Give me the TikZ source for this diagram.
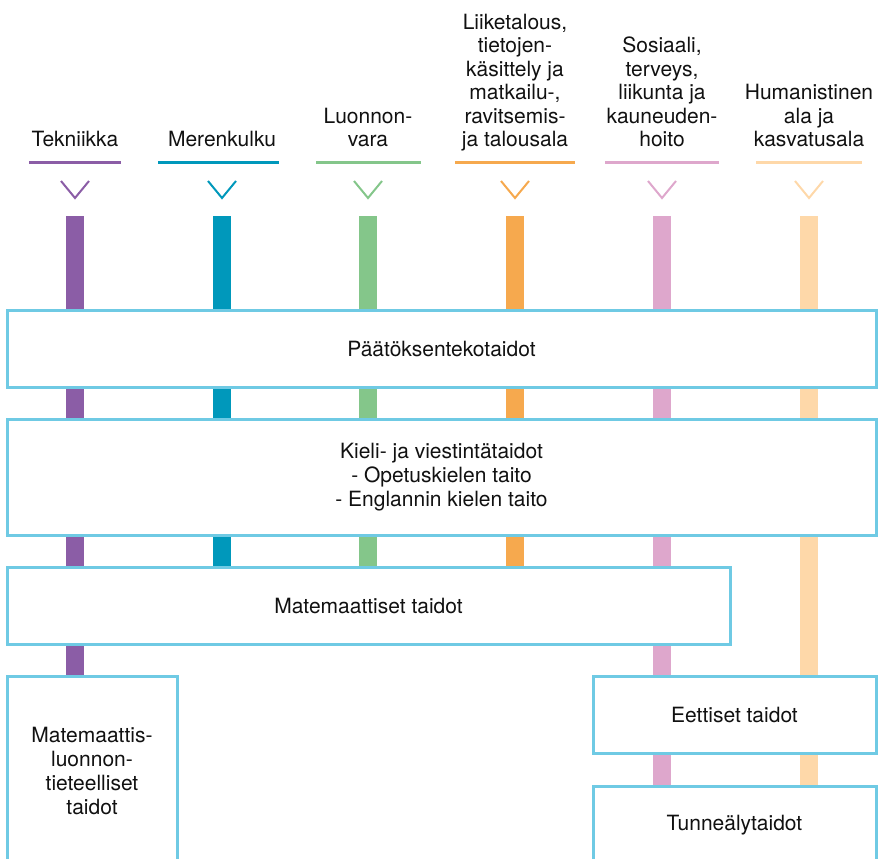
\documentclass[tikz,border=0pt]{standalone}
\usepackage{fontspec}
\setmainfont{TeX Gyre Heros}
\usetikzlibrary{backgrounds}

\definecolor{tekcol}{HTML}{8B5DA6}
\definecolor{mercol}{HTML}{0098BB}
\definecolor{luocol}{HTML}{84C68A}
\definecolor{liicol}{HTML}{F6A94E}
\definecolor{soscol}{HTML}{DEA7CC}
\definecolor{humcol}{HTML}{FED8A9}
\definecolor{boxcol}{HTML}{6FCAE4}
\definecolor{txtcol}{HTML}{111111}

\tikzset{
  head/.style={anchor=south, align=center, inner sep=0pt, text depth=0pt,
    text=txtcol, font=\fontsize{21}{23.5}\selectfont},
  uline/.style={line width=3pt},
  chev/.style={line width=2pt},
  bar/.style={line width=18pt},
  skill/.style={draw=boxcol, line width=3pt, fill=white, align=center,
    inner sep=0pt, text=txtcol, font=\fontsize{21}{24}\selectfont},
}

\begin{document}
\begin{tikzpicture}[x=1pt, y=-1pt]
    \useasboundingbox (0,0) rectangle (878,859);
    \clip (0,0) rectangle (878,859);

    % study fields
    \node[head] (tek) at (75,147) {Tekniikka};
    \node[head] (mer) at (222,147) {Merenkulku};
    \node[head] (luo) at (368,147) {Luonnon-\\vara};
    \node[head] (lii) at (515,147) {Liiketalous,\\tietojen-\\käsittely ja\\matkailu-,\\ravitsemis-\\ja talousala};
    \node[head] (sos) at (662,147) {Sosiaali,\\terveys,\\liikunta ja\\kauneuden-\\hoito};
    \node[head] (hum) at (809,147) {Humanistinen\\ala ja\\kasvatusala};

    \draw[uline, tekcol] (29,162) -- (121,162);
    \draw[uline, mercol] (158,162) -- (279,162);
    \draw[uline, luocol] (316,162) -- (421,162);
    \draw[uline, liicol] (455,162) -- (575,162);
    \draw[uline, soscol] (605,162) -- (719,162);
    \draw[uline, humcol] (756,162) -- (862,162);

    \draw[chev, tekcol] (61,181) -- (75,198) -- (89,181);
    \draw[chev, mercol] (208,181) -- (222,198) -- (236,181);
    \draw[chev, luocol] (354,181) -- (368,198) -- (382,181);
    \draw[chev, liicol] (501,181) -- (515,198) -- (529,181);
    \draw[chev, soscol] (648,181) -- (662,198) -- (676,181);
    \draw[chev, humcol] (795,181) -- (809,198) -- (823,181);

    \coordinate (tektop) at (75,216);
    \coordinate (mertop) at (222,216);
    \coordinate (luotop) at (368,216);
    \coordinate (liitop) at (515,216);
    \coordinate (sostop) at (662,216);
    \coordinate (humtop) at (809,216);

    % skills
    \node[skill, minimum width=869pt, minimum height=77pt] (paat) at (441.5,348.5) {Päätöksentekotaidot};
    \node[skill, minimum width=869pt, minimum height=116pt] (kieli) at (441.5,477) {Kieli- ja viestintätaidot\\- Opetuskielen taito\\- Englannin kielen taito};
    \node[skill, minimum width=723pt, minimum height=77pt] (mate) at (368.5,605.5) {Matemaattiset taidot};
    \node[skill, minimum width=170pt, minimum height=190pt] (matluo) at (92,771) {Matemaattis-\\luonnon-\\tieteelliset\\taidot};
    \node[skill, minimum width=283pt, minimum height=77pt] (eett) at (734.5,714.5) {Eettiset taidot};
    \node[skill, minimum width=283pt, minimum height=78pt] (tunne) at (734.5,825) {Tunneälytaidot};

    \begin{pgfonlayer}{background}
        \draw[bar, tekcol] (tektop) -- (tektop |- matluo.north);
        \draw[bar, mercol] (mertop) -- (mertop |- mate.north);
        \draw[bar, luocol] (luotop) -- (luotop |- mate.north);
        \draw[bar, liicol] (liitop) -- (liitop |- mate.north);
        \draw[bar, soscol] (sostop) -- (sostop |- tunne.north);
        \draw[bar, humcol] (humtop) -- (humtop |- tunne.north);
    \end{pgfonlayer}
\end{tikzpicture}
\end{document}
